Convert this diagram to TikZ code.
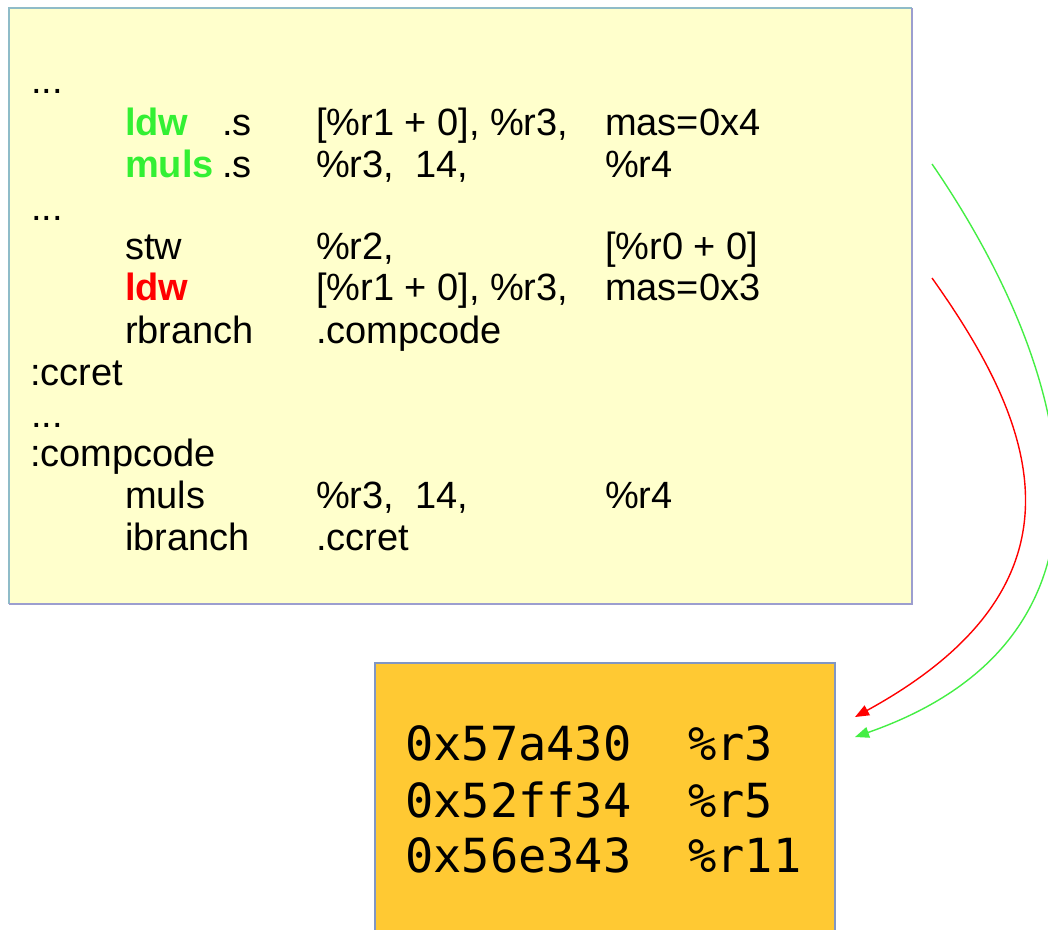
\documentclass[tikz,border=0pt]{standalone}
\usepackage{fontspec}
\setmainfont{Liberation Sans}
\newfontfamily\monofam{DejaVu Sans Mono}
\usetikzlibrary{arrows.meta}
\definecolor{codebg}{HTML}{FFFFCC}
\definecolor{regbg}{HTML}{FFC933}
\definecolor{edgeA}{HTML}{8FBCC8}
\definecolor{edgeB}{HTML}{9C9ECF}
\definecolor{edgeC}{HTML}{8096C4}
\definecolor{hlgreen}{HTML}{33F033}
\definecolor{argreen}{HTML}{44EE44}
\definecolor{hlred}{HTML}{FF0000}
\tikzset{
  code/.style={anchor=base west, inner sep=0pt, font=\fontsize{38}{42}\selectfont},
  hl/.style={code, font=\fontsize{38}{42}\selectfont\bfseries},
  reg/.style={anchor=base west, inner sep=0pt, font=\monofam\fontsize{47}{56}\selectfont},
  flow/.style={line width=1.4pt, -{Triangle[length=14pt,width=11pt]}},
}
\begin{document}
\begin{tikzpicture}[x=1pt,y=-1pt]
\useasboundingbox (0,0) rectangle (1048,929);
% code box
\fill[codebg] (9,8) rectangle (912,604);
\draw[edgeA, line width=1.5pt] (9,604) -- (9,8) -- (912,8);
\draw[edgeB, line width=1.5pt] (912,8) -- (912,604) -- (9,604);
% register box
\fill[regbg] (375,663) rectangle (835,935);
\draw[edgeC, line width=1.5pt] (375,935) -- (375,663) -- (835,663) -- (835,935);

% code lines
\node[code] (d1) at (31,93) {...};
\node[hl, text=hlgreen] (l1a) at (125,135) {ldw};
\node[code] (l1b) at (222,135) {.s};
\node[code] (l1c) at (316,135) {[\%r1 + 0],};
\node[code] (l1d) at (490,135) {\%r3,};
\node[code] (l1e) at (605,135) {mas=0x4};

\node[hl, text=hlgreen] (l2a) at (125,177) {muls};
\node[code] (l2b) at (222,177) {.s};
\node[code] (l2c) at (316,177) {\%r3,\ \ 14,};
\node[code] (l2e) at (605,177) {\%r4};

\node[code] (d2) at (31,220) {...};
\node[code] (l3a) at (125,259) {stw};
\node[code] (l3c) at (316,259) {\%r2,};
\node[code] (l3e) at (605,259) {[\%r0 + 0]};

\node[hl, text=hlred] (l4a) at (125,300) {ldw};
\node[code] (l4c) at (316,300) {[\%r1 + 0],};
\node[code] (l4d) at (490,300) {\%r3,};
\node[code] (l4e) at (605,300) {mas=0x3};

\node[code] (l5a) at (125,343) {rbranch};
\node[code] (l5c) at (316,343) {.compcode};
\node[code] (l6) at (30,385) {:ccret};
\node[code] (d3) at (31,427) {...};
\node[code] (l7) at (30,466) {:compcode};
\node[code] (l8a) at (125,508) {muls};
\node[code] (l8c) at (316,508) {\%r3,\ \ 14,};
\node[code] (l8e) at (605,508) {\%r4};
\node[code] (l9a) at (125,550) {ibranch};
\node[code] (l9c) at (316,550) {.ccret};

% registers
\node[reg] (r1) at (405,760) {0x57a430\ \ \%r3};
\node[reg] (r2) at (405,817) {0x52ff34\ \ \%r5};
\node[reg] (r3) at (405,872) {0x56e343\ \ \%r11};

% arrows
\coordinate (gs) at (932,164);
\coordinate (ge) at (855,737);
\coordinate (rs) at (932,278);
\coordinate (re) at (855,717);
\draw[flow, argreen] (gs) .. controls (1068,362) and (1150,634) .. (ge);
\draw[flow, hlred] (rs) .. controls (1030,416) and (1105,580) .. (re);
\end{tikzpicture}
\end{document}
